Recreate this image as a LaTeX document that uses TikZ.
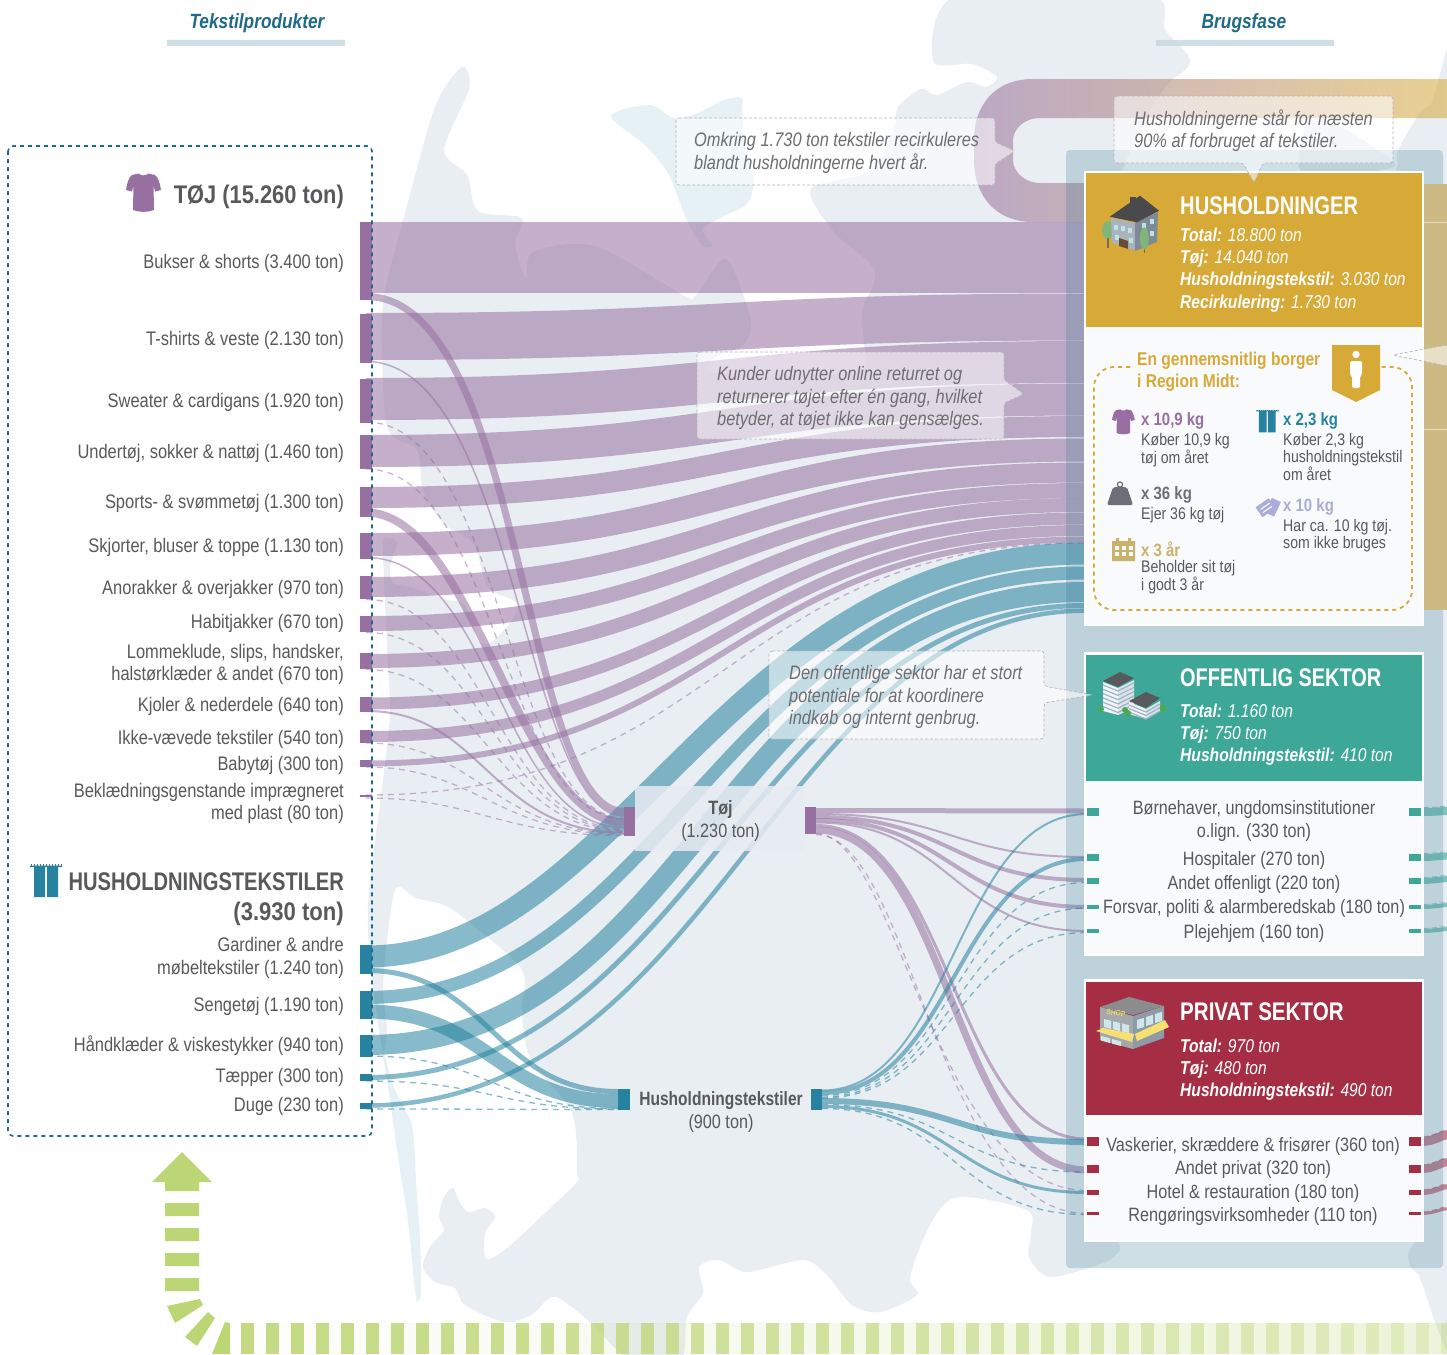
\documentclass[tikz,border=0pt]{standalone}
\usepackage{graphicx}
\usepackage{fontspec}
\setmainfont[FakeStretch=0.84]{Liberation Sans}
\usetikzlibrary{calc}
\pgfdeclarelayer{landlayer}
\pgfdeclarelayer{flowlayer}
\pgfsetlayers{landlayer,flowlayer,main}
\definecolor{purp}{HTML}{976FA0}
\definecolor{tealb}{HTML}{26829F}
\definecolor{goldc}{HTML}{D7A937}
\definecolor{creamc}{HTML}{CDB983}
\definecolor{grn}{HTML}{3DA898}
\definecolor{crim}{HTML}{A52E44}
\definecolor{txtc}{HTML}{58595B}
\definecolor{notec}{HTML}{6D6E71}
\definecolor{landc}{HTML}{E9EEF2}
\definecolor{stripc}{HTML}{E6F1F5}
\definecolor{headb}{HTML}{1F6A8A}
\definecolor{headbar}{HTML}{C5D6DF}
\definecolor{limec}{HTML}{BDD675}
\definecolor{cardc}{HTML}{F8FAFC}
\definecolor{panelc}{HTML}{327594}
\definecolor{peri}{HTML}{A9ADD8}
\definecolor{calgold}{HTML}{C9B26B}
\definecolor{weig}{HTML}{6D6E78}
\definecolor{treeg}{HTML}{7FB57A}
\definecolor{trunkc}{HTML}{7A6A58}
\definecolor{walla}{HTML}{A9B3BE}
\definecolor{wallb}{HTML}{7E8A96}
\definecolor{roofd}{HTML}{4A4A4C}
\definecolor{doorb}{HTML}{6B4A32}
\definecolor{winl}{HTML}{BFE3E3}
\definecolor{offw}{HTML}{F2F4F6}
\definecolor{offg}{HTML}{DDE3EA}
\definecolor{offs}{HTML}{9DB4C8}
\definecolor{offt}{HTML}{4FA84E}
\definecolor{shopr}{HTML}{8A8C8E}
\definecolor{shopl}{HTML}{A5A8AB}
\definecolor{shopb}{HTML}{8E9AA6}
\definecolor{shopw}{HTML}{CFE6EA}
\definecolor{shopy}{HTML}{F7DF71}
\definecolor{shopt}{HTML}{EBD26B}
\definecolor{midbox}{HTML}{E7EBF3}
\tikzset{
 pf/.style={draw=purp,opacity=.55},
 tf/.style={draw=tealb,opacity=.55},
 pd/.style={draw=purp,opacity=.5,dash pattern=on 6pt off 5pt},
 td/.style={draw=tealb,opacity=.55,dash pattern=on 6pt off 5pt},
 gf/.style={draw=grn,opacity=.6},
 cf/.style={draw=crim,opacity=.55},
 lab/.style={anchor=east,align=right,inner sep=0,yshift=-1.5pt,text=txtc,font=\fontsize{19.6}{22.6}\selectfont},
 hd/.style={anchor=east,align=right,inner sep=0,yshift=-2pt,text=txtc,font=\fontsize{25.5}{30}\selectfont\bfseries},
 ctr/.style={anchor=center,align=center,inner sep=0,yshift=-1.5pt,text=txtc,font=\fontsize{19.3}{22.6}\selectfont},
 cardt/.style={anchor=west,inner sep=0,yshift=-1pt,text=white,font=\fontsize{25.5}{30}\selectfont\bfseries},
 cardl/.style={anchor=west,align=left,inner sep=0,yshift=-1.5pt,text=white,font=\fontsize{18.6}{22.3}\selectfont\itshape},
 notet/.style={anchor=west,align=left,inner sep=0,yshift=-2pt,text=notec,font=\fontsize{19.5}{22.3}\selectfont\itshape},
 notebox/.style={draw=notec!50,densely dashed,line width=.7pt,fill=white,fill opacity=.55,rounded corners=3pt},
 smallh/.style={anchor=west,inner sep=0,yshift=-1pt,font=\fontsize{17.8}{20}\selectfont\bfseries},
 smallt/.style={anchor=north west,align=left,inner sep=0,yshift=-1pt,text=txtc,font=\fontsize{16.8}{17}\selectfont},
 pics/tshirt/.style={code={\fill[purp] (13,.5) .. controls (14,3) and (21,3) .. (22,.5) -- (29,2) .. controls (32,4) and (34,10) .. (35,17) -- (29,18.5) -- (27.5,12) -- (28,37) .. controls (22,39.5) and (13,39.5) .. (7,37) -- (7.5,12) -- (6,18.5) -- (0,17) .. controls (1,10) and (3,4) .. (6,2) -- cycle;}},
 pics/curtain/.style={code={\fill[tealb] (4,2) rectangle (15,32) (17,2) rectangle (28,32) (0,.5) rectangle (32,2);
   \foreach \q in {1,4,...,31}{\fill[tealb] (\q,-.6) rectangle +(1,1.4);}}},
}
\newcommand\barnd[6]{\pgfmathsetmacro\bw{#4-#2}\pgfmathsetmacro\bh{#5-#3}\node[inner sep=0,outer sep=0,minimum width=\bw pt,minimum height=\bh pt,fill=#6] (#1) at ({(#2+#4)/2},{(#3+#5)/2}) {};}
\newcommand\flw[8]{\draw[#1,line width=#2pt] ($(#3)+(0,#4)$) .. controls +(#5,0) and +(-#6,0) .. ($(#7)+(0,#8)$);}
\newcommand\stb[5]{\draw[#1,line width=#2pt] (#3.east) .. controls +(14,0) and +(-8,0) .. ($(#3.east)+(28,#4)$);
 \draw[#5,opacity=.5,line width=.8pt,dash pattern=on 5pt off 3pt] ($(#3.east)+(3,-#2/2-.6)$) .. controls +(10,0) and +(-6,0) .. ($(#3.east)+(28,#4-#2/2-.8)$);}
\begin{document}
\begin{tikzpicture}[x=1pt,y=-1pt]
\useasboundingbox (0,0) rectangle (1447,1354);
%================ main: panel, cards, bars
\fill[panelc,opacity=.23,rounded corners=4pt] (1066,150) rectangle (1443,1268);
\node[inner sep=0,outer sep=0,draw=white,line width=2pt,fill=cardc,minimum width=338pt,minimum height=453pt] (huscard) at (1254,398.5) {};
\node[inner sep=0,outer sep=0,draw=white,line width=2pt,fill=cardc,minimum width=338pt,minimum height=302pt] (offcard) at (1254,804) {};
\node[inner sep=0,outer sep=0,draw=white,line width=2pt,fill=cardc,minimum width=338pt,minimum height=261pt] (pricard) at (1254,1110.5) {};
\barnd{hushead}{1086}{173}{1422}{327}{goldc}
\barnd{offhead}{1086}{655}{1422}{781}{grn}
\barnd{prihead}{1086}{982}{1422}{1115}{crim}
% stream leaving households, to the right
\draw[draw=creamc,line width=426pt] ($(huscard.east)+(1,-1.5)$) -- +(30,0);
\draw[white,opacity=.5,line width=.6pt] ($(huscard.east)+(1,-176.5)$) -- +(30,0) ($(huscard.east)+(1,30.5)$) -- +(30,0);
% source bars
\barnd{buk}{360}{222}{372}{300}{purp}
\barnd{tsh}{360}{314}{372}{363}{purp}
\barnd{swe}{360}{379}{372}{423}{purp}
\barnd{und}{360}{435}{372}{469}{purp}
\barnd{spo}{360}{487}{372}{517}{purp}
\barnd{skj}{360}{533}{372}{559}{purp}
\barnd{ano}{360}{576}{372}{599}{purp}
\barnd{hab}{360}{616}{372}{632}{purp}
\barnd{lom}{360}{653}{372}{669}{purp}
\barnd{kjo}{360}{697}{372}{712}{purp}
\barnd{ikk}{360}{730}{372}{743}{purp}
\barnd{bab}{360}{760}{372}{767}{purp}
\barnd{bek}{360}{795}{372}{797}{purp}
\barnd{gar}{360}{945}{372}{974}{tealb}
\barnd{sen}{360}{991}{372}{1019}{tealb}
\barnd{hnd}{360}{1035}{372}{1057}{tealb}
\barnd{tap}{360}{1074}{372}{1081}{tealb}
\barnd{dug}{360}{1103}{372}{1109}{tealb}
% middle
\fill[midbox,opacity=.85] (635,786) rectangle (805,851);
\barnd{tojl}{624}{807}{635}{836}{purp}
\barnd{tojr}{805}{807}{816}{834}{purp}
\barnd{husl}{618}{1089}{630}{1110}{tealb}
\barnd{husr}{811}{1089}{822}{1110}{tealb}
% sector bars
\barnd{off1}{1087}{808}{1099}{816}{grn}
\barnd{off2}{1087}{854}{1099}{861}{grn}
\barnd{off3}{1087}{878}{1099}{884}{grn}
\barnd{off4}{1087}{905}{1099}{909}{grn}
\barnd{off5}{1087}{929}{1099}{933}{grn}
\barnd{ofr1}{1409}{808}{1421}{816}{grn}
\barnd{ofr2}{1409}{854}{1421}{861}{grn}
\barnd{ofr3}{1409}{878}{1421}{884}{grn}
\barnd{ofr4}{1409}{905}{1421}{909}{grn}
\barnd{ofr5}{1409}{929}{1421}{933}{grn}
\barnd{pri1}{1087}{1137}{1099}{1146}{crim}
\barnd{pri2}{1087}{1165}{1099}{1173}{crim}
\barnd{pri3}{1087}{1190}{1099}{1195}{crim}
\barnd{pri4}{1087}{1212}{1099}{1215}{crim}
\barnd{prr1}{1409}{1137}{1421}{1146}{crim}
\barnd{prr2}{1409}{1165}{1421}{1173}{crim}
\barnd{prr3}{1409}{1190}{1421}{1195}{crim}
\barnd{prr4}{1409}{1212}{1421}{1215}{crim}
%================ land
\begin{pgfonlayer}{landlayer}
\fill[white] (0,0) rectangle (1447,1354);
\fill[landc] plot[smooth cycle,tension=.5] coordinates {
(462,67)(469,89)(444,150)(467,175)(478,211)(522,218)(515,243)(526,279)(533,252)(595,246)(683,295)(696,295)(726,259)(751,321)(742,346)(715,357)(712,372)(790,374)(862,370)(864,343)(862,311)(875,271)(834,232)(811,189)(871,171)(894,129)(898,107)(921,89)(937,95)(967,82)(986,87)(997,77)(972,64)(933,61)(958,-5)(1148,-5)(1165,30)(1188,55)(1188,67)(1172,80)(1158,97)(1140,130)(1125,165)(1130,180)(1250,205)(1385,178)(1398,150)(1417,117)(1430,105)(1470,95)(1470,1290)(1417,1273)(1408,1255)(1412,1228)(1300,1225)(1130,1225)(1120,1250)(1103,1263)(1050,1277)(1029,1257)(1031,1233)(1027,1210)(958,1197)(931,1223)(910,1277)(917,1295)(880,1312)(852,1305)(825,1273)(802,1260)(747,1272)(719,1260)(699,1267)(703,1293)(687,1317)(680,1362)(632,1362)(591,1323)(559,1298)(547,1300)(531,1315)(504,1322)(465,1305)(455,1288)(435,1282)(423,1267)(430,1247)(444,1230)(439,1217)(444,1197)(453,1188)(460,1203)(469,1212)(485,1208)(495,1217)(485,1233)(485,1257)(494,1257)(513,1243)(545,1213)(577,1182)(577,1173)(572,1113)(531,1060)(522,1013)(522,970)(469,922)(444,905)(416,898)(396,888)(387,940)(383,990)(387,1030)(382,1048)(370,960)(368,907)(373,857)(383,780)(390,713)(387,647)(383,547)(387,538)(397,543)(390,567)(393,583)(410,587)(447,600)(463,603)(473,623)(477,640)(490,643)(510,623)(517,603)(488,587)(473,543)(443,523)(423,490)(417,450)(388,430)(382,357)(384,296)(403,221)(435,107)};
\fill[landc] plot[smooth cycle,tension=.5] coordinates {(1308,123)(1340,127)(1370,145)(1395,166)(1340,175)(1300,170)};
\fill[stripc] plot[smooth cycle,tension=.4] coordinates {(382,1048)(395,1090)(412,1125)(416,1180)(420,1240)(421,1293)(416,1298)(408,1220)(400,1170)(390,1100)};
\fill[stripc] plot[smooth cycle,tension=.5] coordinates {(611,116)(650,105)(673,118)(696,114)(724,100)(742,98)(742,111)(745,150)(754,179)(747,204)(724,216)(703,229)(712,245)(703,246)(687,221)(669,175)(646,146)};
\end{pgfonlayer}
%================ flows
\begin{pgfonlayer}{flowlayer}
\foreach \k in {0,...,48}{
 \pgfmathsetmacro\ox{241+25*\k}\pgfmathsetmacro\oa{.9-.009*\k}\pgfmathsetmacro\ob{.02+.005*\k}
 \fill[limec,opacity=\oa] (\ox,1323) rectangle +(12.5,31);
 \fill[limec,opacity=\ob] (\ox+12.5,1323) rectangle +(12.5,31);
}
% recycling loop
\shade[left color=purp,middle color=purp!40!goldc,right color=goldc,opacity=.55] (1447,79) -- (1033,79) .. controls (995,79) and (974,105) .. (974,140) -- (974,160) .. controls (974,195) and (995,222) .. (1033,222) -- (1085,222) -- (1085,183) -- (1040,183) .. controls (1025,183) and (1013,172) .. (1013,160) -- (1013,141) .. controls (1013,128) and (1025,118) .. (1040,118) -- (1447,118) -- cycle;
% to households
\flw{pf}{71}{buk}{-3.5}{356}{356}{huscard.west}{-141}
\flw{pf}{47}{tsh}{-2}{356}{356}{huscard.west}{-81.5}
\flw{pf}{42}{swe}{-2}{356}{356}{huscard.west}{-36.5}
\flw{pf}{32}{und}{-1}{356}{356}{huscard.west}{1}
\flw{pf}{21}{spo}{-4.5}{356}{356}{huscard.west}{28}
\flw{pf}{23}{skj}{-1.5}{356}{356}{huscard.west}{51.5}
\flw{pf}{20}{ano}{-.5}{356}{356}{huscard.west}{74}
\flw{pf}{15}{hab}{-.5}{356}{356}{huscard.west}{92}
\flw{pf}{14}{lom}{0}{356}{356}{huscard.west}{106.5}
\flw{pf}{12}{kjo}{-1}{356}{356}{huscard.west}{120}
\flw{pf}{11}{ikk}{0}{356}{356}{huscard.west}{132}
\flw{pf}{6}{bab}{0}{356}{356}{huscard.west}{141}
\flw{pd}{1.3}{bek}{-1}{356}{356}{huscard.west}{144.5}
\flw{tf}{22}{gar}{-3}{254}{360}{huscard.west}{155}
\flw{tf}{13}{sen}{-7.5}{300}{360}{huscard.west}{174.5}
\flw{tf}{20}{hnd}{-1}{328}{360}{huscard.west}{193.5}
\flw{tf}{5}{tap}{0}{328}{330}{huscard.west}{207}
\flw{tf}{4.5}{dug}{-.5}{348}{305}{huscard.west}{212.2}
% to clothing node
\flw{pf}{7}{buk}{35.5}{158}{102}{tojl.west}{-10}
\flw{pf}{1.5}{tsh}{23}{150}{100}{tojl.west}{-5.5}
\flw{pd}{1.3}{swe}{21}{136}{116}{tojl.west}{-3.5}
\flw{pd}{1.3}{und}{17}{130}{120}{tojl.west}{-2.5}
\flw{pf}{8}{spo}{10.5}{108}{104}{tojl.west}{1}
\flw{pf}{1.5}{skj}{11.5}{128}{124}{tojl.west}{6}
\flw{pd}{1.3}{ano}{12}{120}{125}{tojl.west}{7.5}
\flw{pd}{1.3}{hab}{8.5}{120}{125}{tojl.west}{8.5}
\flw{pd}{1.3}{lom}{8.5}{115}{125}{tojl.west}{9.5}
\flw{pf}{2}{kjo}{6.5}{118}{135}{tojl.west}{11}
\flw{pd}{1.3}{ikk}{6.5}{110}{130}{tojl.west}{12}
\flw{pd}{1.3}{bab}{3.5}{110}{125}{tojl.west}{13}
\flw{pd}{1.3}{bek}{2}{110}{125}{tojl.west}{14}
% to household-textile node
\flw{tf}{5}{gar}{11}{123}{123}{husl.west}{-8}
\flw{tf}{14}{sen}{6.5}{123}{123}{husl.west}{1.5}
\flw{td}{1.3}{hnd}{10}{123}{123}{husl.west}{9}
\flw{td}{1.3}{tap}{3.5}{123}{123}{husl.west}{9.5}
\flw{td}{1.3}{dug}{3}{123}{123}{husl.west}{10}
% from clothing node to sectors
\flw{pf}{5}{tojr.east}{-10}{135}{135}{off1.west}{-1}
\flw{pf}{2}{tojr.east}{-6.5}{135}{135}{off2.west}{-.5}
\flw{pf}{4}{tojr.east}{-3.5}{135}{135}{off3.west}{-1}
\flw{pf}{4}{tojr.east}{-.5}{135}{135}{off4.west}{0}
\flw{pf}{2}{tojr.east}{2}{135}{135}{off5.west}{0}
\flw{pf}{3}{tojr.east}{5}{135}{135}{pri1.west}{-2.5}
\flw{pf}{7}{tojr.east}{9.5}{135}{135}{pri2.west}{1}
\flw{pd}{1.3}{tojr.east}{13}{80}{150}{pri3.west}{-2}
\flw{pd}{1.3}{tojr.east}{14}{95}{150}{pri4.west}{0}
% from household-textile node to sectors
\flw{tf}{2}{husr.east}{-9}{132}{132}{off1.west}{2}
\flw{tf}{4}{husr.east}{-6.5}{132}{132}{off2.west}{1.5}
\flw{td}{1.3}{husr.east}{-4}{132}{132}{off3.west}{1.5}
\flw{td}{1.3}{husr.east}{-2.5}{132}{132}{off4.west}{1}
\flw{td}{1.3}{husr.east}{-1.5}{132}{132}{off5.west}{1.5}
\flw{tf}{6}{husr.east}{1.5}{132}{132}{pri1.west}{.5}
\flw{td}{1.3}{husr.east}{5}{132}{132}{pri2.west}{3}
\flw{tf}{3}{husr.east}{7}{132}{132}{pri3.west}{0}
\flw{td}{1.3}{husr.east}{9}{132}{132}{pri4.west}{1}
% onward stubs
\stb{gf}{8}{ofr1}{-1}{grn}
\stb{gf}{7}{ofr2}{-1.5}{grn}
\stb{gf}{6}{ofr3}{-2}{grn}
\stb{gf}{4}{ofr4}{-2}{grn}
\stb{gf}{4}{ofr5}{-2}{grn}
\stb{cf}{9}{prr1}{-7}{crim}
\stb{cf}{8}{prr2}{-7}{crim}
\stb{cf}{5}{prr3}{-6}{crim}
\stb{cf}{3}{prr4}{-5}{crim}
\end{pgfonlayer}
%================ dashed frame of products
\draw[headb,line width=1.6pt,dash pattern=on 4pt off 4pt,rounded corners=5pt] (8,146) rectangle (372,1136);
%================ heads
\node[inner sep=0,yshift=-1pt,text=headb,font=\fontsize{20.6}{24}\selectfont\bfseries\itshape] (t1) at (257,22) {Tekstilprodukter};
\node[inner sep=0,yshift=-1pt,text=headb,font=\fontsize{20.6}{24}\selectfont\bfseries\itshape] (t2) at (1244,22) {Brugsfase};
\fill[headbar,opacity=.8] (167,40) rectangle (345,46) (1156,40) rectangle (1334,46);
%================ left labels
\pic[scale=1] at (126,173) {tshirt};
\node[hd] (n1) at (344,195) {\scalebox{1.02}[1]{TØJ (15.260 ton)}};
\node[lab] (l1) at (344,262) {Bukser \& shorts (3.400 ton)};
\node[lab] (l2) at (344,339) {T-shirts \& veste (2.130 ton)};
\node[lab] (l3) at (344,401) {Sweater \& cardigans (1.920 ton)};
\node[lab] (l4) at (344,452) {Undertøj, sokker \& nattøj (1.460 ton)};
\node[lab] (l5) at (344,502) {Sports- \& svømmetøj (1.300 ton)};
\node[lab] (l6) at (344,546) {Skjorter, bluser \& toppe (1.130 ton)};
\node[lab] (l7) at (344,588) {Anorakker \& overjakker (970 ton)};
\node[lab] (l8) at (344,622) {Habitjakker (670 ton)};
\node[lab] (l9) at (344,663) {Lommeklude, slips, handsker,\\halstørklæder \& andet (670 ton)};
\node[lab] (l10) at (344,705) {Kjoler \& nederdele (640 ton)};
\node[lab] (l11) at (344,738) {Ikke-vævede tekstiler (540 ton)};
\node[lab] (l12) at (344,764) {Babytøj (300 ton)};
\node[lab] (l13) at (344,802) {Beklædningsgenstande imprægneret\\med plast (80 ton)};
\pic at (30,865) {curtain};
\node[hd] (n2) at (344,897) {\scalebox{.94}[1]{HUSHOLDNINGSTEKSTILER}\\\scalebox{1.03}[1]{(3.930 ton)}};
\node[lab] (l14) at (344,956.5) {Gardiner \& andre\\møbeltekstiler (1.240 ton)};
\node[lab] (l15) at (344,1005) {Sengetøj (1.190 ton)};
\node[lab] (l16) at (344,1044) {Håndklæder \& viskestykker (940 ton)};
\node[lab] (l17) at (344,1076) {Tæpper (300 ton)};
\node[lab] (l18) at (344,1105) {Duge (230 ton)};
%================ middle labels
\node[ctr] (m1) at (720.5,819.5) {\textbf{Tøj}\\(1.230 ton)};
\node[ctr] (m2) at (721,1110.5) {\scalebox{.96}[1]{\textbf{Husholdningstekstiler}}\\(900 ton)};
%================ card text
\node[cardt] (c1) at (1180,205) {\scalebox{.94}[1]{HUSHOLDNINGER}};
\node[cardl] (c1a) at (1180,268.5) {\textbf{Total:} 18.800 ton\\\textbf{Tøj:} 14.040 ton\\\textbf{Husholdningstekstil:} 3.030 ton\\\textbf{Recirkulering:} 1.730 ton};
\node[cardt] (c2) at (1180,677) {\scalebox{.93}[1]{OFFENTLIG SEKTOR}};
\node[cardl] (c2a) at (1180,733) {\textbf{Total:} 1.160 ton\\\textbf{Tøj:} 750 ton\\\textbf{Husholdningstekstil:} 410 ton};
\node[cardt] (c3) at (1180,1011) {\scalebox{.96}[1]{PRIVAT SEKTOR}};
\node[cardl] (c3a) at (1180,1068) {\textbf{Total:} 970 ton\\\textbf{Tøj:} 480 ton\\\textbf{Husholdningstekstil:} 490 ton};
\node[ctr] (o1) at (1254,819.5) {Børnehaver, ungdomsinstitutioner\\o.lign. (330 ton)};
\node[ctr] (o2) at (1254,859) {Hospitaler (270 ton)};
\node[ctr] (o3) at (1254,883) {Andet offenligt (220 ton)};
\node[ctr] (o4) at (1254,907) {Forsvar, politi \& alarmberedskab (180 ton)};
\node[ctr] (o5) at (1254,932) {Plejehjem (160 ton)};
\node[ctr] (p1) at (1253,1145) {Vaskerier, skræddere \& frisører (360 ton)};
\node[ctr] (p2) at (1253,1168) {Andet privat (320 ton)};
\node[ctr] (p3) at (1253,1192) {Hotel \& restauration (180 ton)};
\node[ctr] (p4) at (1253,1215) {Rengøringsvirksomheder (110 ton)};
%================ citizen panel
\draw[goldc,line width=1.8pt,dash pattern=on 4pt off 4pt,rounded corners=20pt] (1130,367) -- (1094,367) -- (1094,610) -- (1412,610) -- (1412,367) -- (1381,367);
\fill[goldc] (1332,345) -- (1380,345) -- (1380,390) -- (1356,402) -- (1332,390) -- cycle;
\fill[white] (1356,354.5) circle (3.7);
\fill[white,rounded corners=1.5pt] (1350,361) -- (1362,361) -- (1362,375) -- (1360,376) -- (1360,388) -- (1352,388) -- (1352,376) -- (1350,375) -- cycle;
\node[anchor=west,align=left,inner sep=0,yshift=-1pt,text=goldc,font=\fontsize{18.5}{21.5}\selectfont\bfseries] (g0) at (1137,371) {En gennemsnitlig borger\\i Region Midt:};
\pic[scale=.65] at (1112,409) {tshirt};
\pic[scale=.7] at (1256,410) {curtain};
\node[smallh,text=purp] (g1) at (1141,420) {x 10,9 kg};
\node[smallt] (g1a) at (1141,432) {Køber 10,9 kg\\tøj om året};
\node[smallh,text=weig] (g2) at (1141,494) {x 36 kg};
\node[smallt] (g2a) at (1141,506) {Ejer 36 kg tøj};
\node[smallh,text=calgold] (g3) at (1141,548) {x 3 år};
\node[smallt] (g3a) at (1141,559) {Beholder sit tøj\\i godt 3 år};
\node[smallh,text=tealb] (g4) at (1283,420) {x 2,3 kg};
\node[smallt] (g4a) at (1283,432) {Køber 2,3 kg\\husholdningstekstil\\om året};
\node[smallh,text=peri] (g5) at (1283,506) {x 10 kg};
\node[smallt] (g5a) at (1283,518) {Har ca. 10 kg tøj.\\som ikke bruges};
% weight
\draw[weig,line width=1.2pt] (1120,484.5) circle (2.6);
\fill[weig,rounded corners=2pt] (1113,487) -- (1127,487) -- (1133,505) -- (1107,505) -- cycle;
% calendar
\fill[calgold] (1112,541) rectangle (1135,561) (1116,538) rectangle (1119,543) (1128,538) rectangle (1131,543);
\foreach \qx in {1115,1122,1129}{\foreach \qy in {546,552}{\fill[white] (\qx,\qy) rectangle +(4,3.6);}}
% clothes pile
\begin{scope}[shift={(1268,506)}]
\fill[peri,rotate=35] (-11,-6) rectangle (5,6);
\fill[peri,rotate=-25] (0,-9) rectangle (10,7);
\fill[white,rotate=35] (-8,-2) rectangle (3,-1) (-8,2) rectangle (3,3);
\end{scope}
%================ house icon
\begin{scope}[shift={(1102,195)}]
\fill[treeg] (5.7,35) ellipse (5.5 and 9);
\fill[trunkc] (5,43) rectangle (7,53);
\fill[walla] (9,23) -- (33,28) -- (33,55.7) -- (10,47.7) -- cycle;
\fill[wallb] (33,28) -- (56,17) -- (55,47) -- (33,56) -- cycle;
\fill[roofd] (28,2) rectangle (34,8);
\fill[roofd] (7.7,21.7) -- (38,.7) -- (57,15.7) -- (35,27.3) -- cycle;
\fill[doorb] (17,43) -- (26,46) -- (26,54) -- (17,51) -- cycle;
\foreach \qa/\qb in {12/30,19/31,26/33,13/40,27/43}{\fill[winl] (\qa,\qb) rectangle +(3.5,5);}
\foreach \qa/\qb in {40/28,48/24,40/39,48/36}{\fill[winl] (\qa,\qb) rectangle +(3.5,5);}
\fill[trunkc] (41.5,50) rectangle (43,58);
\fill[treeg] (42.3,43.3) ellipse (4.5 and 11);
\end{scope}
%================ offices icon
\fill[offw] (1103,682) -- (1118,688) -- (1118,715) -- (1103,711) -- cycle;
\fill[offg] (1118,688) -- (1134,680) -- (1134,708) -- (1118,715) -- cycle;
\fill[txtc] (1103,681) -- (1120,672) -- (1134,678) -- (1118,687) -- cycle;
\foreach \q in {0,...,5}{\draw[offs,line width=1.2pt] (1103,685+4.3*\q) -- (1118,691+4.3*\q) -- (1134,683+4.3*\q);}
\fill[offw] (1129,702) -- (1146,709) -- (1146,719) -- (1129,714) -- cycle;
\fill[offg] (1146,709) -- (1160,701) -- (1160,711) -- (1146,719) -- cycle;
\fill[txtc] (1129,701) -- (1146,692) -- (1160,698) -- (1146,708) -- cycle;
\foreach \q in {0,1,2}{\draw[offs,line width=1.2pt] (1129,705+3.5*\q) -- (1146,712+3.5*\q) -- (1160,704+3.5*\q);}
\fill[offt] (1101,709) circle (3) (1125,710) circle (3) (1128,713) circle (3) (1163,708) circle (3.5);
%================ shop icon
\fill[shopr] (1100,1007) -- (1129,997) -- (1164,1006) -- (1133,1015) -- cycle;
\fill[shopl] (1100,1007) -- (1133,1016) -- (1133,1049) -- (1100,1040) -- cycle;
\fill[shopb] (1133,1016) -- (1164,1006) -- (1164,1038) -- (1133,1049) -- cycle;
\foreach \q in {0,1,2}{\fill[shopw] (1104+9*\q,1019+2.2*\q) -- +(7,1.8) -- +(7,10) -- +(0,8) -- cycle;}
\foreach \q in {0,1,2}{\fill[shopw] (1137+9*\q,1020-3*\q) -- +(7,-2.2) -- +(7,7) -- +(0,9) -- cycle;}
\foreach \q in {0,1}{\fill[shopw] (1101+11*\q,1036+3*\q) -- +(9,2.4) -- +(9,7) -- +(0,4.6) -- cycle;}
\fill[shopy] (1096,1031) -- (1103,1028) -- (1134,1034) -- (1132,1042) -- cycle;
\fill[shopy] (1135,1034) -- (1165,1020) -- (1169,1027) -- (1137,1041) -- cycle;
\node[inner sep=0,rotate=-8,text=shopt,font=\fontsize{8}{9}\selectfont\bfseries] (shoptxt) at (1116,1013) {SHOP};
%================ green arrow
\fill[limec] (152,1182) -- (182,1152) -- (212,1182) -- (199,1182) -- (199,1191) -- (165,1191) -- (165,1182) -- cycle;
\fill[limec] (165,1203) rectangle (199,1216) (165,1228) rectangle (199,1241) (165,1253) rectangle (199,1266) (165,1278) rectangle (199,1291);
\fill[limec] (167,1306) -- (200,1299) -- (203,1305) -- (175,1323) -- cycle;
\fill[limec] (185,1337) -- (208,1312) -- (215,1318) -- (197,1346) -- cycle;
\fill[limec] (212,1354) -- (225,1322) -- (230,1323) -- (230,1354) -- cycle;
%================ callouts
\draw[notebox] (676,118) -- (995,118) -- (995,142) -- (1015,151) -- (995,164) -- (995,185) -- (676,185) -- cycle;
\node[notet] (b1) at (694,151) {Omkring 1.730 ton tekstiler recirkuleres\\blandt husholdningerne hvert år.};
\draw[notebox] (1114,96) -- (1393,96) -- (1393,163) -- (1263,163) -- (1254,183) -- (1243,163) -- (1114,163) -- cycle;
\node[notet] (b2) at (1134,129) {Husholdningerne står for næsten\\90\% af forbruget af tekstiler.};
\draw[notebox] (697,352) -- (1004,352) -- (1004,380) -- (1024,394) -- (1004,403) -- (1004,439) -- (697,439) -- cycle;
\node[notet] (b3) at (717,396) {Kunder udnytter online returret og\\returnerer tøjet efter én gang, hvilket\\betyder, at tøjet ikke kan gensælges.};
\draw[notebox] (769,651) -- (1044,651) -- (1044,686) -- (1093,695) -- (1044,703) -- (1044,739) -- (769,739) -- cycle;
\node[notet] (b4) at (789,695) {Den offentlige sektor har et stort\\potentiale for at koordinere\\indkøb og internt genbrug.};
\draw[notebox] (1447,345) -- (1392,355) -- (1447,366);
\end{tikzpicture}
\end{document}
